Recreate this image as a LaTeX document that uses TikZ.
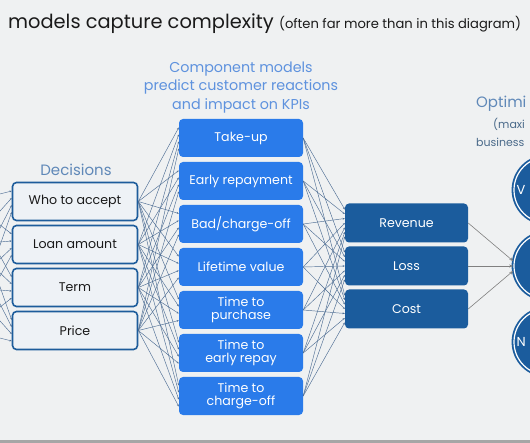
\documentclass[tikz,border=0pt]{standalone}
\usepackage{fontspec}
\setmainfont{Poppins}
\usetikzlibrary{arrows.meta,calc,positioning}
\definecolor{fondo}{HTML}{EFF1F2}
\definecolor{azulcaja}{HTML}{2A7BEA}
\definecolor{azulkpi}{HTML}{1B5C9D}
\definecolor{bordedec}{HTML}{1D5C9B}
\definecolor{rellenodec}{HTML}{EEF2F6}
\definecolor{linea}{HTML}{4E6E94}
\definecolor{titulo}{HTML}{5E92DE}
\definecolor{rotulo}{HTML}{5F88B8}
\definecolor{tinta}{HTML}{1A1A1A}
\definecolor{tenue}{HTML}{4A6A8A}
\tikzset{
  decision/.style={rectangle,rounded corners=4pt,draw=bordedec,fill=rellenodec,line width=1.6pt,minimum width=125pt,minimum height=38pt,inner sep=0pt,font=\fontsize{12.6}{14}\selectfont,text=tinta},
  modelo/.style={rectangle,rounded corners=4pt,fill=azulcaja,minimum width=124pt,minimum height=38pt,inner sep=0pt,align=center,font=\fontsize{12.6}{13.5}\selectfont,text=white},
  kpi/.style={rectangle,rounded corners=4pt,fill=azulkpi,minimum width=123pt,minimum height=39pt,inner sep=0pt,font=\fontsize{12.6}{14}\selectfont,text=white},
  meta/.style={circle,draw=azulkpi,double=white,double distance=1.2pt,line width=1.8pt,fill=azulkpi,minimum size=66pt,inner sep=0pt},
  enlace/.style={draw=linea,line width=0.45pt,-{Stealth[length=2.2pt,width=1.8pt]}},
  flecha/.style={draw=gray,line width=0.6pt,-{Stealth[length=4pt,width=3pt]}},
  cabecera/.style={align=center,font=\fontsize{14.3}{18.5}\selectfont},
}
\begin{document}
\begin{tikzpicture}[x=1pt,y=-1pt]
  \useasboundingbox (0,0) rectangle (530,443);
  \clip (0,0) rectangle (530,443);
  \fill[fondo] (0,0) rectangle (530,443);
  \fill[gray!70] (0,440) rectangle (530,443);
  % titles
  \node[anchor=base west,text=tinta,font=\fontsize{19.4}{22}\selectfont,inner sep=0pt] (titulo) at (8,28.5) {models capture complexity {\fontsize{13.1}{16}\selectfont(often far more than in this diagram)}};
  \node[cabecera,text=titulo] (cabmod) at (241,87.5) {Component models\\predict customer reactions\\and impact on KPIs};
  \node[cabecera,text=rotulo,font=\fontsize{15}{18}\selectfont] (cabdec) at (76,170) {Decisions};
  \node[cabecera,text=rotulo,font=\fontsize{15}{18}\selectfont,anchor=west,inner sep=0pt] (cabopt) at (476,104) {Optimi};
  \node[anchor=west,text=tenue,font=\fontsize{11}{13}\selectfont,inner sep=0pt] (maxi) at (493,124) {(maxi};
  \node[anchor=west,text=tenue,font=\fontsize{11}{13}\selectfont,inner sep=0pt] (negocio) at (476,142) {business};
  % columns
  \foreach \t [count=\i] in {Who to accept,Loan amount,Term,Price}
    \node[decision] (d\i) at (75,158.5+43*\i) {\t};
  \foreach \t [count=\j] in {Take-up,Early repayment,Bad/charge-off,Lifetime value,{Time to\\purchase},{Time to\\early repay},{Time to\\charge-off}}
    \node[modelo] (m\j) at (241,95+43*\j) {\t};
  \foreach \t [count=\k] in {Revenue,Loss,Cost}
    \node[kpi] (k\k) at (406.5,180+43*\k) {\t};
  \foreach \k in {1,2,3}
    \node[meta] (g\k) at (547,114+76*\k) {};
  \node[anchor=west,text=white,font=\fontsize{13}{15}\selectfont] at (g1.west) {V};
  \node[anchor=west,text=white,font=\fontsize{13}{15}\selectfont] at (g3.west) {N};
  % fans
  \foreach \i in {1,...,4}
    \coordinate (o\i) at (-30,158.5+43*\i);
  \foreach \i in {1,...,4}
    \foreach \k in {1,...,4}
      \draw[enlace] (o\i) -- ($(d\k.west)+(0,{(\i-2.5)*7})$);
  \foreach \i in {1,...,4}
    \foreach \j in {1,...,7}
      \draw[enlace] (d\i.east) -- ($(m\j.west)+(0,{(\i-2.5)*7})$);
  \foreach \j in {1,...,7}
    \foreach \k in {1,2,3}
      \draw[enlace] (m\j.east) -- ($(k\k.west)+(0,{(\j-4)*4.5})$);
  \draw[flecha] (k1.east) -- ($(g2.west)+(0,-5)$);
  \draw[flecha] (k2.east) -- (g2.west);
  \draw[flecha] (k3.east) -- ($(g2.west)+(0,5)$);
\end{tikzpicture}
\end{document}
